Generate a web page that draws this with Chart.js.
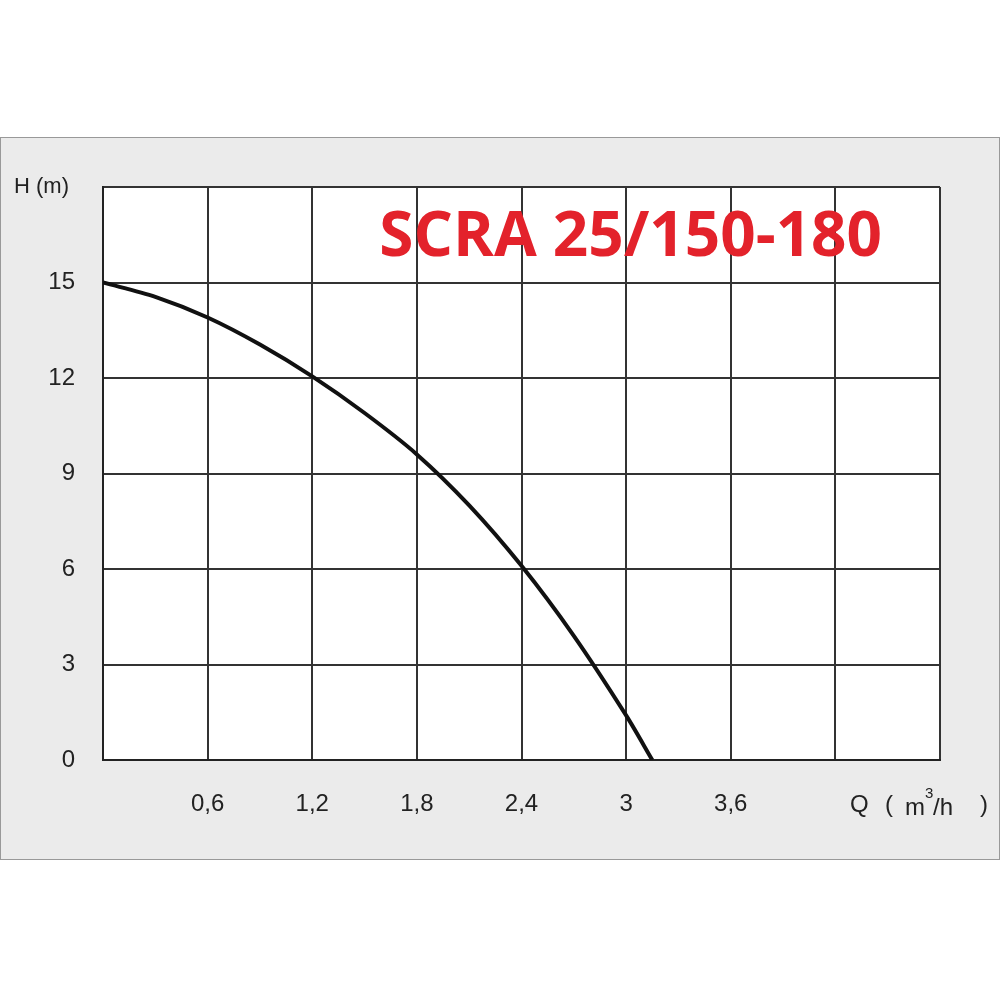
<!DOCTYPE html>
<html>
<head>
<meta charset="utf-8">
<script src="https://cdn.jsdelivr.net/npm/chart.js@4"></script>
<style>
  html, body { margin: 0; padding: 0; background: #fff; }
  #c { display: block; }
</style>
</head>
<body>
<canvas id="c" width="1000" height="1000"></canvas>
<script>
// curve
const qValues = [0, 0.3, 0.6, 0.9, 1.2, 1.5, 1.8, 2.1, 2.4, 2.7, 3.0, 3.15];
const hValues = [15, 14.55, 13.9, 13.05, 12.05, 10.9, 9.6, 8.0, 6.1, 3.9, 1.4, 0];
const yTicks = [0, 3, 6, 9, 12, 15];
const xTicks = [0.6, 1.2, 1.8, 2.4, 3, 3.6];
const titre = "SCRA 25/150-180";

const fond = {
  id: "fond",
  beforeDraw(chart) {
    const ctx = chart.ctx, a = chart.chartArea;
    ctx.save();
    ctx.fillStyle = "#ebebeb";
    ctx.fillRect(0, 137, 1000, 723);
    ctx.strokeStyle = "#999";
    ctx.lineWidth = 1;
    ctx.strokeRect(0.5, 137.5, 999, 722);
    ctx.fillStyle = "#fff";
    ctx.fillRect(a.left, a.top, a.right - a.left, a.bottom - a.top);
    ctx.restore();
  },
  afterDraw(chart) {
    const ctx = chart.ctx;
    ctx.save();
    ctx.fillStyle = "#222";
    ctx.font = "22px 'Liberation Sans', Arial";
    ctx.textBaseline = "middle";
    ctx.fillText("H (m)", 14, 187);
    ctx.font = "24px 'Liberation Sans', Arial";
    ctx.fillText("Q", 850, 805);
    ctx.fillText("(", 885, 805);
    ctx.fillText("m", 905, 808);
    ctx.font = "15px 'Liberation Sans', Arial";
    ctx.fillText("3", 925, 794);
    ctx.font = "24px 'Liberation Sans', Arial";
    ctx.fillText("/h", 933, 808);
    ctx.fillText(")", 980, 805);
    ctx.fillStyle = "#e3222b";
    ctx.font = "bold 62px 'Open Sans', 'DejaVu Sans'";
    ctx.textAlign = "right";
    ctx.fillText(titre, 882, 238);
    ctx.restore();
  }
};

const fmt = v => Number(v.toFixed(1)).toString().replace(".", ",");

new Chart(document.getElementById("c"), {
  type: "scatter",
  data: {
    datasets: [{
      data: qValues.map((q, i) => ({ x: q, y: hValues[i] })),
      showLine: true,
      borderColor: "#111",
      borderWidth: 4,
      pointRadius: 0,
      tension: 0.3
    }]
  },
  options: {
    responsive: false,
    animation: false,
    layout: { padding: { left: 0, top: 187, right: 60, bottom: 0 } },
    plugins: { legend: { display: false }, tooltip: { enabled: false } },
    scales: {
      x: {
        type: "linear", min: 0, max: 4.8,
        afterBuildTicks: s => { s.ticks = [0, 0.6, 1.2, 1.8, 2.4, 3, 3.6, 4.2, 4.8].map(v => ({ value: v })); },
        afterFit: s => { s.height = 240; },
        ticks: {
          autoSkip: false, maxRotation: 0, padding: 30,
          color: "#222", font: { size: 24, family: "'Liberation Sans', Arial" },
          callback: v => xTicks.some(t => Math.abs(t - v) < 1e-6) ? fmt(v) : ""
        },
        grid: { color: "#333", lineWidth: 2, drawTicks: false },
        border: { color: "#222", width: 2 }
      },
      y: {
        type: "linear", min: 0, max: 18,
        afterBuildTicks: s => { s.ticks = [0, 3, 6, 9, 12, 15, 18].map(v => ({ value: v })); },
        afterFit: s => { s.width = 103; },
        ticks: {
          padding: 28,
          color: "#222", font: { size: 24, family: "'Liberation Sans', Arial" },
          callback: v => yTicks.includes(v) ? String(v) : ""
        },
        grid: { color: "#333", lineWidth: 2, drawTicks: false },
        border: { color: "#222", width: 2 }
      }
    }
  },
  plugins: [fond]
});
</script>
</body>
</html>
